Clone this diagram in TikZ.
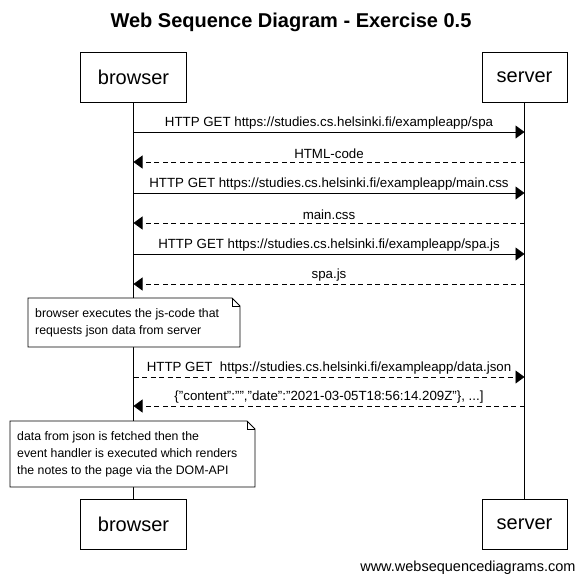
\documentclass[tikz,border=0pt]{standalone}
\usepackage{fontspec}
\setmainfont{Liberation Sans}
\usetikzlibrary{arrows.meta}
\begin{document}
\begin{tikzpicture}[x=1pt,y=-1pt,
  actor/.style={draw,line width=0.9pt,fill=white,minimum width=106pt,minimum height=50pt,inner sep=0pt,font=\fontsize{20}{24}\selectfont},
  life/.style={line width=0.9pt},
  msg/.style={line width=0.9pt,-{Triangle[length=9pt,width=13pt]}},
  reply/.style={msg,dash pattern=on 5pt off 3.5pt},
  lbl/.style={font=\fontsize{13.3}{15}\selectfont,inner sep=0pt,above=2.5pt,fill=white,inner xsep=1pt},
  notebox/.style={anchor=north west,inner xsep=7pt,inner ysep=0pt,align=left,font=\fontsize{12.3}{17}\selectfont},
  noteline/.style={line width=0.9pt,fill=white},
  fold/.style={line width=0.6pt}]
\useasboundingbox (0,0) rectangle (583,582);
% title
\node (title) at (291,22) {\fontsize{20}{24}\selectfont\bfseries Web Sequence Diagram - Exercise 0.5};
% participants
\node[actor] (btop) at (133.5,77) {browser};
\node[actor,minimum width=85pt] (stop) at (524.5,77) {server};
\node[actor] (bbot) at (133.5,524) {browser};
\node[actor,minimum width=85pt] (sbot) at (524.5,524) {server};
% lifelines
\draw[life] (btop.south) -- (bbot.north);
\draw[life] (stop.south) -- (sbot.north);
% message end points on the lifelines
\foreach \n/\y in {1/132,2/162,3/193,4/223,5/254,6/284,7/377,8/406}{
  \coordinate (b\n) at (133.5,\y);
  \coordinate (s\n) at (524.5,\y);
}
\draw[msg] (b1) -- node[lbl] {HTTP GET https://studies.cs.helsinki.fi/exampleapp/spa} (s1);
\draw[reply] (s2) -- node[lbl] {HTML-code} (b2);
\draw[msg] (b3) -- node[lbl] {HTTP GET https://studies.cs.helsinki.fi/exampleapp/main.css} (s3);
\draw[reply] (s4) -- node[lbl] {main.css} (b4);
\draw[msg] (b5) -- node[lbl] {HTTP GET https://studies.cs.helsinki.fi/exampleapp/spa.js} (s5);
\draw[reply] (s6) -- node[lbl] {spa.js} (b6);
\draw[reply] (b7) -- node[lbl] {HTTP GET\ \ https://studies.cs.helsinki.fi/exampleapp/data.json} (s7);
\draw[reply] (s8) -- node[lbl] {\{"content":"","date":"2021-03-05T18:56:14.209Z"\}, ...]} (b8);
% notes with a folded corner
\path (28,298) coordinate (n1nw) (240,347) coordinate (n1se);
\draw[noteline] (n1nw) -- (232,298) -- (240,306) -- (n1se) -- (28,347) -- cycle;
\draw[fold] (232,298) -- (232,306) -- (240,306);
\node[notebox,minimum height=49pt] (note1) at (n1nw) {browser executes the js-code that\\requests json data from server};
\path (10,421) coordinate (n2nw) (255,487) coordinate (n2se);
\draw[noteline] (n2nw) -- (247,421) -- (255,429) -- (n2se) -- (10,487) -- cycle;
\draw[fold] (247,421) -- (247,429) -- (255,429);
\node[notebox,minimum height=66pt] (note2) at (n2nw) {data from json is fetched then the\\event handler is executed which renders\\the notes to the page via the DOM-API};
% footer
\node[anchor=east,font=\fontsize{14.5}{16}\selectfont] (footer) at (579,568) {www.websequencediagrams.com};
\end{tikzpicture}
\end{document}
